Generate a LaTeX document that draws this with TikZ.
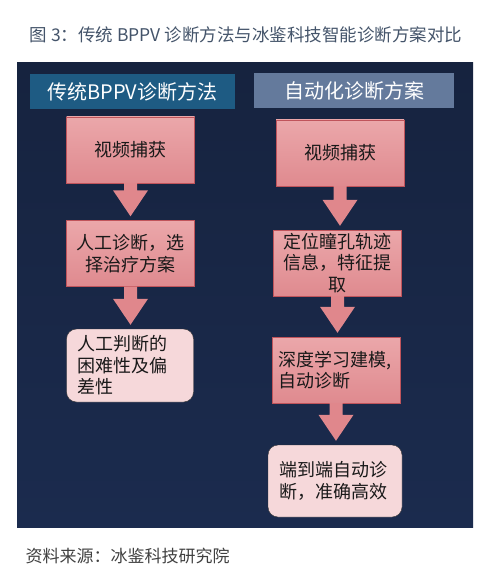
\documentclass[tikz,border=0pt]{standalone}
\usepackage{fontspec}
\setmainfont{Noto Sans CJK SC}
\usepackage{tikz}
\usetikzlibrary{positioning,calc}
\usepackage{xcolor}

\definecolor{panelnavy}{HTML}{16233F}
\definecolor{panelglow}{HTML}{1B2B4E}
\definecolor{headblue}{HTML}{1E5B83}
\definecolor{headslate}{HTML}{647A9C}
\definecolor{boxtop}{HTML}{EBA7AA}
\definecolor{boxbottom}{HTML}{DF8A8F}
\definecolor{boxedge}{HTML}{C0545B}
\definecolor{arrowpink}{HTML}{E0878C}
\definecolor{notepink}{HTML}{F6D8DA}
\definecolor{titlegray}{HTML}{44546A}
\definecolor{sourcegray}{HTML}{404040}

% block arrow from the bottom of one box to the top of the next
\newcommand{\flowarrow}[2]{%
  \fill[arrowpink] let \p1=(#1.south), \p2=(#2.north) in
    (\x1-6.5pt,\y1) -- (\x1+6.5pt,\y1) -- (\x1+6.5pt,\y2+30pt) -- (\x1+17.5pt,\y2+30pt)
    -- (\x1,\y2+4pt) -- (\x1-17.5pt,\y2+30pt) -- (\x1-6.5pt,\y2+30pt) -- cycle;}

\begin{document}
\begin{tikzpicture}[
    x=1pt, y=-1pt,
    headbox/.style={fill=#1, text=white, minimum height=35pt, inner sep=0pt, font=\fontsize{20}{24}\selectfont},
    headbox/.default={headblue},
    stepbox/.style={draw=boxedge, thin, top color=boxtop, bottom color=boxbottom, minimum width=128pt, minimum height=66pt,
      inner sep=3pt, align=center, text=black!90, font=\fontsize{18}{21.5}\selectfont},
    notebox/.style={draw=black!80, thin, fill=notepink, rounded corners=10pt, minimum width=127pt, minimum height=73pt,
      inner sep=3pt, align=left, text=black!90, font=\fontsize{18}{21.5}\selectfont},
]
\useasboundingbox (0,0) rectangle (499,580);

\node[text=titlegray, font=\fontsize{17.5}{21}\selectfont] (title) at (246,35) {图 3：传统 BPPV 诊断方法与冰鉴科技智能诊断方案对比};

\shade[top color=panelnavy, bottom color=panelglow] (17,63) rectangle (473,527);

% ===== LEFT: traditional =====
\node[headbox=headblue, minimum width=205pt] (lefthead) at (132.5,91.5) {传统BPPV诊断方法};
\node[stepbox] (lcapture) at (130.5,150) {视频捕获};
\node[stepbox] (lmanual) at (130.5,253.5) {人工诊断，选\\择治疗方案};
\node[notebox, text width=106pt] (lnote) at (130,365.5) {人工判断的\\困难性及偏\\差性};

% ===== RIGHT: automated =====
\node[headbox=headslate, minimum width=200pt] (righthead) at (354,90.5) {自动化诊断方案};
\node[stepbox] (rcapture) at (340,153) {视频捕获};
\node[stepbox] (rtrack) at (337.5,263) {定位瞳孔轨迹\\信息，特征提\\取};
\node[stepbox, text width=116pt, align=left] (rmodel) at (336,370) {深度学习建模,\\自动诊断};
\node[notebox, minimum width=134pt, minimum height=72pt, text width=112pt] (rnote) at (335,481) {端到端自动诊\\断，准确高效};

% ===== ARROWS =====
\flowarrow{lcapture}{lmanual}
\flowarrow{lmanual}{lnote}
\flowarrow{rcapture}{rtrack}
\flowarrow{rtrack}{rmodel}
\flowarrow{rmodel}{rnote}

\node[anchor=west, text=sourcegray, font=\fontsize{17}{21}\selectfont] (source) at (22,556) {资料来源：冰鉴科技研究院};
\end{tikzpicture}
\end{document}
